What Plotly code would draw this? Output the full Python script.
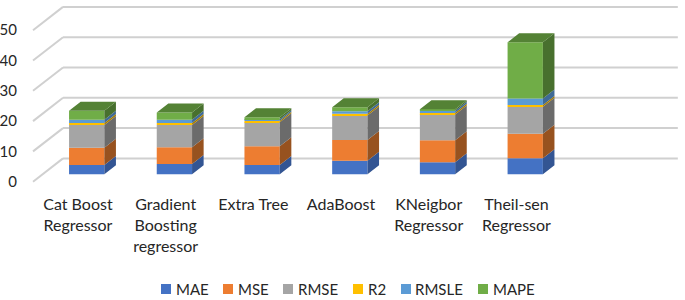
import numpy as np
import plotly.graph_objects as go

categories = ["Cat Boost<br>Regressor", "Gradient<br>Boosting<br>regressor", "Extra Tree",
              "AdaBoost", "KNeigbor<br>Regressor", "Theil-sen<br>Regressor"]
MAE = [3.1, 3.4, 3.1, 4.5, 4.0, 5.3]
MSE = [5.7, 5.5, 6.15, 6.8, 7.25, 8.1]
RMSE = [7.5, 7.4, 7.9, 8.1, 8.5, 8.9]
R2 = [0.6, 0.6, 0.5, 0.55, 0.55, 0.55]
RMSLE = [1.1, 1.1, 0.55, 0.9, 0.65, 2.2]
MAPE = [3.0, 2.4, 0.65, 1.3, 0.55, 18.5]
y_ticks = [0, 10, 20, 30, 40, 50]

series = [("MAE", MAE, "#4472C4", "#335593"), ("MSE", MSE, "#ED7D31", "#97521F"),
          ("RMSE", RMSE, "#A5A5A5", "#6B6B6B"), ("R2", R2, "#FFC000", "#A67C00"),
          ("RMSLE", RMSLE, "#5B9BD5", "#3F6A96"), ("MAPE", MAPE, "#70AD47", "#48702E")]
TOP = "#548235"
GRID = "#D0D0D0"

# layout of the plot area and the legend row, in page pixels
PLOT_L, PLOT_R, PLOT_B = 20, 685, 190
LEGEND_MARK_X = [161, 223, 283, 353, 401, 478]
LEGEND_TEXT_X = [176, 238, 298, 368, 415, 493]
LEGEND_Y = 289

# oblique projection: a point at depth t is shifted by t*(DX, DY) in axis units
DX, DY = 0.342, 7.69
T0, T1 = 0.317, 0.703
W = 0.4025
WALL_X = -0.612
RIGHT_X = 6.74
x = np.arange(len(categories), dtype=float)


def proj(xv, v, t):
    return xv + (t - T0) * DX, v + t * DY


def paper_x(p):
    return (p - PLOT_L) / (PLOT_R - PLOT_L)


def paper_y(p):
    return (PLOT_B - p) / PLOT_B


fig = go.Figure()
shapes = []
for v in y_ticks:
    x0, y0 = WALL_X, v
    x1, y1 = WALL_X + DX, v + DY
    shapes.append(dict(type="line", x0=x0, y0=y0, x1=x1, y1=y1, layer="below",
                       line=dict(color=GRID, width=2)))
    shapes.append(dict(type="line", x0=x1, y0=y1, x1=RIGHT_X, y1=y1, layer="below",
                       line=dict(color=GRID, width=2)))

annotations = []
cum = np.zeros(len(x))
for k, (name, vals, col, dark) in enumerate(series):
    vals = np.array(vals)
    fig.add_trace(go.Bar(x=x, y=vals, base=cum + T0 * DY, width=W, name=name, showlegend=False,
                         marker=dict(color=col, line=dict(width=0)), hoverinfo="skip"))
    px_, py_ = [], []
    for xi, b, h in zip(x, cum, vals):
        r = xi + W / 2
        for xv, v, t in [(r, b, T0), (r, b, T1), (r, b + h, T1), (r, b + h, T0), (r, b, T0)]:
            a, c = proj(xv, v, t)
            px_.append(a)
            py_.append(c)
        px_.append(None)
        py_.append(None)
    fig.add_trace(go.Scatter(x=px_, y=py_, mode="lines", fill="toself", fillcolor=dark,
                             line=dict(width=0), showlegend=False, hoverinfo="skip"))
    cum = cum + vals
    shapes.append(dict(type="rect", xref="paper", yref="paper",
                       x0=paper_x(LEGEND_MARK_X[k]), x1=paper_x(LEGEND_MARK_X[k] + 10),
                       y0=paper_y(LEGEND_Y + 5), y1=paper_y(LEGEND_Y - 5),
                       fillcolor=col, line=dict(width=0)))
    annotations.append(dict(text=name, xref="paper", yref="paper", showarrow=False,
                            x=paper_x(LEGEND_TEXT_X[k] - 2), y=paper_y(LEGEND_Y),
                            xanchor="left", yanchor="middle",
                            font=dict(family="Lato", size=15, color="#262626")))

px_, py_ = [], []
for xi, v in zip(x, cum):
    l, r = xi - W / 2, xi + W / 2
    for xv, t in [(l, T0), (r, T0), (r, T1), (l, T1), (l, T0)]:
        a, c = proj(xv, v, t)
        px_.append(a)
        py_.append(c)
    px_.append(None)
    py_.append(None)
fig.add_trace(go.Scatter(x=px_, y=py_, mode="lines", fill="toself", fillcolor=TOP,
                         line=dict(width=0), showlegend=False, hoverinfo="skip"))

FONT = dict(family="Lato", size=16, color="#262626")
LABEL_SHIFT = -0.1
fig.update_layout(
    width=685, height=300, margin=dict(l=PLOT_L, r=0, t=0, b=300 - PLOT_B, autoexpand=False),
    paper_bgcolor="white", plot_bgcolor="white", barmode="overlay", font=FONT,
    shapes=shapes, annotations=annotations, showlegend=False,
    xaxis=dict(range=[-0.7605, 6.8217], showgrid=False, zeroline=False, showline=False,
               ticks="", tickmode="array", tickvals=list(x + LABEL_SHIFT),
               ticktext=categories, tickangle=0, tickfont=FONT, ticklabelstandoff=3),
    yaxis=dict(range=[-2.74, 59.97], showgrid=False, zeroline=False, showline=False,
               ticks="", tickmode="array", tickvals=y_ticks, ticktext=[str(v) for v in y_ticks],
               tickfont=dict(family="Lato", size=15, color="#262626"), ticklabelstandoff=2),
)
fig.write_html("out.html", config=dict(displayModeBar=False),
               post_script="document.body.style.margin='0';document.documentElement.style.overflow='hidden';")
